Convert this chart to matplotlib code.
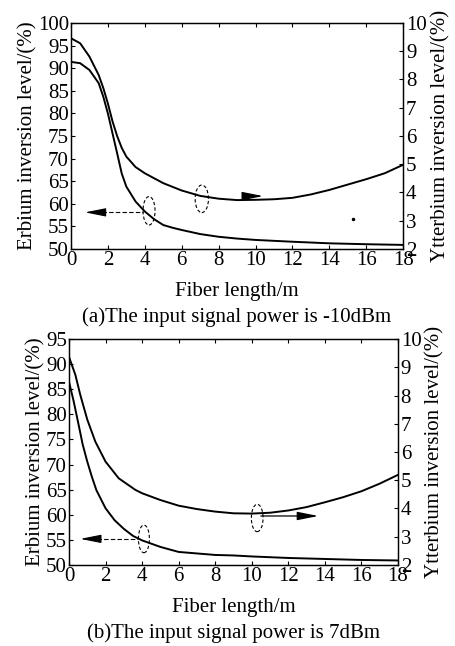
import matplotlib
matplotlib.use('agg')
import matplotlib.pyplot as plt
from matplotlib.patches import Ellipse

plt.rcParams['font.family'] = ['Liberation Serif', 'DejaVu Serif']

# ---- (a) input signal -10 dBm ----
a_len_er = [0, 0.5, 1, 1.5, 1.75, 2, 2.25, 2.5, 2.75, 3, 3.5, 4, 4.5, 5, 5.5, 6, 7, 8, 9, 10, 11, 12, 14, 16, 18]
a_er = [91.4, 91.1, 89.6, 86.7, 83.7, 80.0, 75.6, 71.2, 66.7, 63.8, 60.5, 58.3, 56.6, 55.3, 54.7, 54.2,
        53.3, 52.7, 52.3, 52.0, 51.8, 51.6, 51.25, 51.05, 50.9]
a_len_yb = [0, 0.5, 1, 1.5, 1.75, 2, 2.25, 2.5, 2.75, 3, 3.5, 4, 5, 6, 7, 8, 9, 10, 11, 12, 13, 14, 15, 16, 17, 18]
a_yb = [9.46, 9.28, 8.81, 8.16, 7.70, 7.15, 6.52, 6.00, 5.58, 5.27, 4.90, 4.68, 4.33, 4.07, 3.88, 3.78,
        3.73, 3.74, 3.76, 3.81, 3.93, 4.09, 4.28, 4.47, 4.68, 4.98]

# ---- (b) input signal 7 dBm ----
b_len_er = [0, 0.25, 0.5, 0.75, 1, 1.25, 1.5, 2, 2.5, 3, 3.5, 4, 5, 6, 7, 8, 9, 10, 12, 14, 16, 18]
b_er = [86.5, 82.7, 78.4, 74.0, 70.6, 67.6, 64.9, 61.3, 58.9, 57.2, 55.8, 54.9, 53.6, 52.6, 52.3, 52.0,
        51.9, 51.7, 51.4, 51.2, 51.0, 50.9]
b_len_yb = [0, 0.35, 0.62, 1, 1.44, 2, 2.72, 3.63, 4, 5, 6, 7, 8, 9, 10, 11, 12, 13, 14, 15, 16, 17, 18]
b_yb = [9.37, 8.73, 8.02, 7.15, 6.37, 5.66, 5.07, 4.66, 4.54, 4.30, 4.10, 3.98, 3.89, 3.83, 3.82, 3.85,
        3.93, 4.05, 4.22, 4.40, 4.61, 4.88, 5.19]

x_ticks = list(range(0, 19, 2))
yb_ticks = list(range(2, 11))

panels = [
    dict(rect=[0.156, 0.6146, 0.730, 0.3498], len_er=a_len_er, er=a_er, len_yb=a_len_yb, yb=a_yb,
         er_lim=(50, 100), er_ticks=list(range(50, 101, 5)),
         caption='(a)The input signal power is -10dBm',
         ell_er=(4.23, 58.45, 0.65, 6.3), ell_yb=(7.09, 61.1, 0.72, 6.1),
         left_arrow=(0.76, 3.92, 58.1), right_arrow=(9.44, 10.41, 61.7), dot=(15.3, 56.6)),
    dict(rect=[0.1516, 0.1254, 0.723, 0.3498], len_er=b_len_er, er=b_er, len_yb=b_len_yb, yb=b_yb,
         er_lim=(50, 95), er_ticks=list(range(50, 96, 5)),
         caption='(b)The input signal power is 7dBm',
         ell_er=(4.1, 55.2, 0.6, 5.5), ell_yb=(10.3, 59.36, 0.64, 5.45),
         left_arrow=(0.62, 3.8, 55.2), right_arrow=(10.5, 13.64, 59.76), dot=None),
]

head = '-|>,head_length=0.8,head_width=0.16'

fig = plt.figure(figsize=(4.55, 6.46), dpi=100)

for p in panels:
    ax = fig.add_axes(p['rect'])
    ax2 = ax.twinx()
    ax.plot(p['len_er'], p['er'], color='black', lw=1.4)
    ax2.plot(p['len_yb'], p['yb'], color='black', lw=1.4)

    ax.set_xlim(0, 18)
    ax.set_ylim(*p['er_lim'])
    ax2.set_ylim(2, 10)
    ax.set_xticks(x_ticks)
    ax.set_yticks(p['er_ticks'])
    ax2.set_yticks(yb_ticks)
    ax.tick_params(direction='in', top=True, labelsize=15, length=3, pad=1.5)
    ax2.tick_params(direction='in', labelsize=15, length=3, pad=2)
    for a in (ax, ax2):
        for s in a.spines.values():
            s.set_linewidth(0.9)

    ax.set_ylabel('Erbium inversion level/(%)', fontsize=15, labelpad=0)
    ax2.set_ylabel('Ytterbium inversion level/(%)', fontsize=15, labelpad=3)
    ax.set_xlabel('Fiber length/m', fontsize=15)
    ax.xaxis.set_label_coords(0.5, -0.145)
    ax.text(0.5, -0.30, p['caption'], transform=ax.transAxes, ha='center', va='center', fontsize=15)

    # dashed ellipses marking the curves
    for cx, cy, w, h in (p['ell_er'], p['ell_yb']):
        ax.add_patch(Ellipse((cx, cy), w, h, fill=False, ls=(0, (3, 2)), lw=0.8, color='black'))

    # dashed arrow pointing to the erbium (left) axis
    tip, start, yy = p['left_arrow']
    ax.plot([tip + 0.9, start], [yy, yy], color='black', lw=0.8, ls=(0, (4, 2)))
    ax.annotate('', xy=(tip, yy), xytext=(tip + 0.95, yy),
                arrowprops=dict(arrowstyle=head, color='black', lw=0.8,
                                mutation_scale=16, shrinkA=0, shrinkB=0))

    # arrow pointing to the ytterbium (right) axis
    x0, x1, yy = p['right_arrow']
    ax.annotate('', xy=(x1, yy), xytext=(x0, yy),
                arrowprops=dict(arrowstyle=head, color='black', lw=0.9,
                                mutation_scale=16, shrinkA=0, shrinkB=0))

    if p['dot']:
        ax.plot(*p['dot'], 'o', color='black', ms=1.5)

fig.savefig('out.png', dpi=100)
